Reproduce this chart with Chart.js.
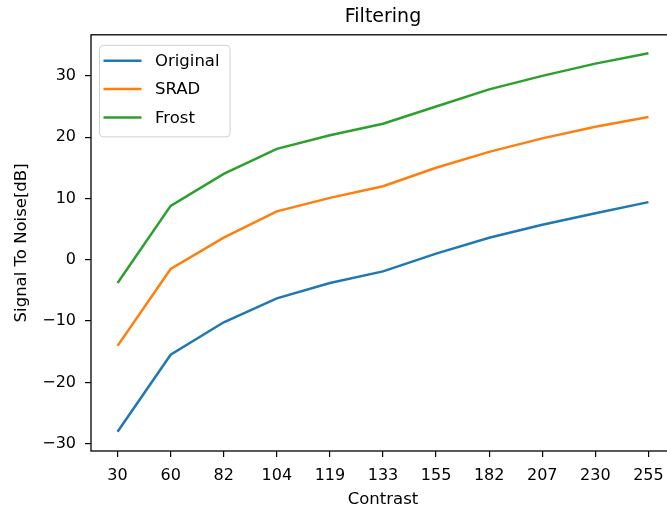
<!DOCTYPE html>
<html>
<head>
<meta charset="utf-8">
<script src="https://cdn.jsdelivr.net/npm/chart.js@4/dist/chart.umd.min.js"></script>
<style>
    html, body { margin: 0; padding: 0; overflow: hidden; background: #fff; }
    #wrap { width: 675px; height: 512px; }
</style>
</head>
<body>
<div id="wrap"><canvas id="chart"></canvas></div>
<script>
const categories = ["30", "60", "82", "104", "119", "133", "155", "182", "207", "230", "255"];
const original = [-28.05, -15.5, -10.2, -6.3, -3.8, -1.9, 1.0, 3.6, 5.7, 7.6, 9.4];
const srad = [-14.05, -1.5, 3.6, 7.9, 10.1, 12.0, 15.0, 17.6, 19.8, 21.7, 23.3];
const frost = [-3.8, 8.8, 14.0, 18.1, 20.3, 22.2, 25.0, 27.8, 30.0, 32.0, 33.7];
const yTicks = [-30, -20, -10, 0, 10, 20, 30];
const yMin = -31.2;
const yMax = 36.7;

const FONT = "'DejaVu Sans', sans-serif";

// ── Marco (4 spines) y leyenda dentro del área ─────────────────
const frameAndLegend = {
    id: "frameAndLegend",
    afterDraw(chart) {
        const { ctx, chartArea: a } = chart;
        ctx.save();
        ctx.strokeStyle = "#000";
        ctx.lineWidth = 1.3;
        ctx.strokeRect(a.left, a.top, a.right - a.left, a.bottom - a.top);

        // leyenda estilo matplotlib
        const sets = chart.data.datasets;
        ctx.font = "16.5px " + FONT;
        const textW = Math.max(...sets.map(d => ctx.measureText(d.label).width));
        const bx = a.left + 8, by = a.top + 10;
        const lineX = bx + 4.5, lineLen = 38, gap = 13.5, pitch = 28.3;
        const bw = 4.5 + lineLen + gap + textW + 10;
        const bh = 16 + pitch * (sets.length - 1) + 19;

        ctx.beginPath();
        ctx.roundRect(bx + 0.5, by + 0.5, bw, bh, 4);
        ctx.fillStyle = "rgba(255,255,255,0.8)";
        ctx.fill();
        ctx.strokeStyle = "#d0d0d0";
        ctx.lineWidth = 1;
        ctx.stroke();

        sets.forEach((d, i) => {
            const cy = by + 16 + i * pitch;
            ctx.beginPath();
            ctx.moveTo(lineX, cy);
            ctx.lineTo(lineX + lineLen, cy);
            ctx.strokeStyle = d.borderColor;
            ctx.lineWidth = 2.5;
            ctx.stroke();
            ctx.fillStyle = "#000";
            ctx.textBaseline = "middle";
            ctx.textAlign = "left";
            ctx.fillText(d.label, lineX + lineLen + gap, cy + 1);
        });
        ctx.restore();
    }
};

new Chart(document.getElementById("chart"), {
    type: "line",
    data: {
        labels: categories,
        datasets: [
            { label: "Original", data: original, borderColor: "#1f77b4" },
            { label: "SRAD", data: srad, borderColor: "#ff7f0e" },
            { label: "Frost", data: frost, borderColor: "#2ca02c" }
        ]
    },
    options: {
        responsive: true,
        maintainAspectRatio: false,
        devicePixelRatio: 1,
        animation: false,
        layout: { padding: 0 },
        elements: {
            point: { radius: 0 },
            line: { borderWidth: 2.5, tension: 0, fill: false }
        },
        plugins: {
            legend: { display: false },
            tooltip: { enabled: false },
            title: {
                display: true,
                text: "Filtering",
                fullSize: false,
                color: "#000",
                font: { family: FONT, size: 19, weight: "normal" },
                padding: { top: 6, bottom: 6 }
            }
        },
        scales: {
            x: {
                type: "category",
                offset: true,
                border: { display: false },
                grid: { display: true, drawOnChartArea: false, drawTicks: true, tickLength: 6, color: "#000", lineWidth: 1.2 },
                ticks: { color: "#000", font: { family: FONT, size: 16 }, padding: 9, maxRotation: 0, autoSkip: false },
                title: { display: true, text: "Contrast", color: "#000", font: { family: FONT, size: 16.5 }, padding: { top: 0, bottom: 2 } },
                afterFit(scale) { scale.height = 61; }
            },
            y: {
                min: yMin,
                max: yMax,
                border: { display: false },
                grid: { display: true, drawOnChartArea: false, drawTicks: true, tickLength: 6, color: "#000", lineWidth: 1.2 },
                ticks: {
                    color: "#000",
                    font: { family: FONT, size: 16 },
                    padding: 9,
                    callback: v => String(v).replace("-", "\u2212")
                },
                title: { display: true, text: "Signal To Noise[dB]", color: "#000", font: { family: FONT, size: 16.5 }, padding: { top: 12, bottom: 0 } },
                afterBuildTicks(scale) { scale.ticks = yTicks.map(v => ({ value: v })); },
                afterFit(scale) { scale.width = 91; }
            }
        }
    },
    plugins: [frameAndLegend]
});
</script>
</body>
</html>
